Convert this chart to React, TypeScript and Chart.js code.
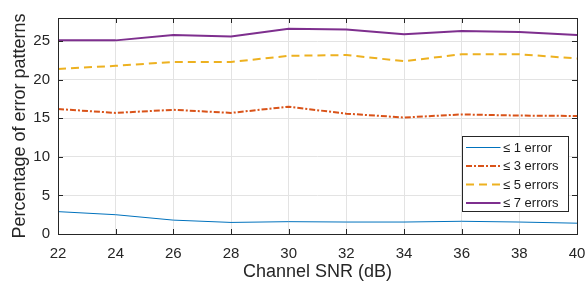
import React, { useEffect, useRef } from "react";
import { Chart, registerables } from "chart.js";

Chart.register(...registerables);

const snr = [22, 24, 26, 28, 30, 32, 34, 36, 38, 40];
const err1 = [2.9, 2.5, 1.8, 1.5, 1.6, 1.55, 1.55, 1.65, 1.55, 1.4];
const err3 = [16.2, 15.7, 16.1, 15.7, 16.5, 15.6, 15.1, 15.5, 15.35, 15.3];
const err5 = [21.4, 21.8, 22.3, 22.3, 23.1, 23.2, 22.4, 23.3, 23.3, 22.75];
const err7 = [25.1, 25.1, 25.8, 25.6, 26.6, 26.5, 25.9, 26.3, 26.2, 25.8];
const yTicks = [0, 5, 10, 15, 20, 25];
const xTicks = [22, 24, 26, 28, 30, 32, 34, 36, 38, 40];
const labels = ["≤ 1 error", "≤ 3 errors", "≤ 5 errors", "≤ 7 errors"];

const FONT = "'Liberation Sans', Arial, Helvetica, sans-serif";
const AXIS = "#262626";

const framePlugin = {
  id: "frame",
  afterDraw(chart: any) {
    const { ctx, chartArea: a, scales } = chart;
    const x = scales.x;
    const y = scales.y;
    ctx.save();
    ctx.strokeStyle = AXIS;
    ctx.lineWidth = 1;
    ctx.strokeRect(Math.round(a.left) + 0.5, Math.round(a.top) + 0.5, Math.round(a.right - a.left), Math.round(a.bottom - a.top));
    const tl = 5;
    ctx.beginPath();
    for (const v of xTicks) {
      const px = Math.round(x.getPixelForValue(v)) + 0.5;
      ctx.moveTo(px, a.bottom);
      ctx.lineTo(px, a.bottom - tl);
      ctx.moveTo(px, a.top);
      ctx.lineTo(px, a.top + tl);
    }
    for (const v of yTicks) {
      const py = Math.round(y.getPixelForValue(v)) + 0.5;
      ctx.moveTo(a.left, py);
      ctx.lineTo(a.left + tl, py);
      ctx.moveTo(a.right, py);
      ctx.lineTo(a.right - tl, py);
    }
    ctx.stroke();

    // legend
    const bw = 106, bh = 75;
    const bx = Math.round(a.right - 9 - bw) + 0.5;
    const by = Math.round(a.bottom - 23 - bh) + 0.5;
    ctx.fillStyle = "#ffffff";
    ctx.fillRect(bx, by, bw, bh);
    ctx.strokeStyle = AXIS;
    ctx.lineWidth = 1;
    ctx.strokeRect(bx, by, bw, bh);
    const ds = chart.data.datasets;
    ctx.font = `13px ${FONT}`;
    ctx.textBaseline = "middle";
    ctx.textAlign = "left";
    for (let i = 0; i < ds.length; i++) {
      const yy = by + 11 + i * 18.5;
      ctx.beginPath();
      ctx.strokeStyle = ds[i].borderColor;
      ctx.lineWidth = ds[i].borderWidth;
      ctx.setLineDash(ds[i].borderDash || []);
      ctx.moveTo(bx + 3.5, yy);
      ctx.lineTo(bx + 38, yy);
      ctx.stroke();
      ctx.setLineDash([]);
      ctx.fillStyle = "#1a1a1a";
      ctx.fillText(ds[i].label, bx + 40.5, yy + 0.5);
    }
    ctx.restore();
  },
};

export default function App() {
  const ref = useRef<HTMLCanvasElement>(null);
  useEffect(() => {
    document.body.style.margin = "0";
    const chart = new Chart(ref.current!, {
      type: "line",
      data: {
        labels: snr,
        datasets: [
          { label: labels[0], data: snr.map((s, i) => ({ x: s, y: err1[i] })), borderColor: "#0072BD", borderWidth: 1, pointRadius: 0, tension: 0 },
          { label: labels[1], data: snr.map((s, i) => ({ x: s, y: err3[i] })), borderColor: "#D95319", borderWidth: 2, borderDash: [6, 2, 2, 2], pointRadius: 0, tension: 0 },
          { label: labels[2], data: snr.map((s, i) => ({ x: s, y: err5[i] })), borderColor: "#EDB120", borderWidth: 2, borderDash: [8, 5], pointRadius: 0, tension: 0 },
          { label: labels[3], data: snr.map((s, i) => ({ x: s, y: err7[i] })), borderColor: "#7E2F8E", borderWidth: 2, pointRadius: 0, tension: 0 },
        ] as any,
      },
      options: {
        animation: false,
        responsive: false,
        maintainAspectRatio: false,
        layout: { padding: { top: 18, right: 10, left: 0, bottom: 0 } },
        plugins: { legend: { display: false }, tooltip: { enabled: false } },
        scales: {
          x: {
            type: "linear",
            min: 22,
            max: 40,
            afterBuildTicks: (s: any) => { s.ticks = xTicks.map((v) => ({ value: v })); },
            afterFit: (s: any) => { s.height = 51; s.paddingLeft = 0; s.paddingRight = 0; },
            grid: { color: "#e3e3e3", drawTicks: false },
            border: { display: false },
            ticks: { color: AXIS, font: { family: FONT, size: 15 }, padding: 11, maxRotation: 0 },
            title: { display: true, text: "Channel SNR (dB)", color: AXIS, font: { family: FONT, size: 18 }, padding: { top: 0, bottom: 2 } },
          },
          y: {
            type: "linear",
            min: 0,
            max: 28,
            afterBuildTicks: (s: any) => { s.ticks = yTicks.map((v) => ({ value: v })); },
            afterFit: (s: any) => { s.width = 58; s.paddingTop = 0; s.paddingBottom = 0; },
            grid: { color: "#e3e3e3", drawTicks: false },
            border: { display: false },
            ticks: { color: AXIS, font: { family: FONT, size: 15 }, padding: 8 },
            title: { display: true, text: "Percentage of error patterns", color: AXIS, font: { family: FONT, size: 18 }, padding: { top: 9, bottom: 0 } },
          },
        },
      } as any,
      plugins: [framePlugin],
    });
    return () => chart.destroy();
  }, []);
  return <canvas ref={ref} width={587} height={285} style={{ display: "block" }} />;
}
